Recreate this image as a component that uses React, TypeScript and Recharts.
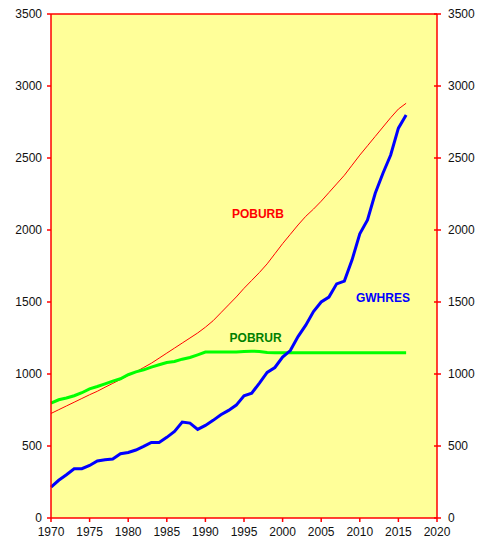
import { LineChart, Line, XAxis, YAxis, CartesianGrid, ReferenceLine, ReferenceDot } from "recharts";

const YEARS = [
  1970, 1971, 1972, 1973, 1974, 1975, 1976, 1977, 1978, 1979,
  1980, 1981, 1982, 1983, 1984, 1985, 1986, 1987, 1988, 1989,
  1990, 1991, 1992, 1993, 1994, 1995, 1996, 1997, 1998, 1999,
  2000, 2001, 2002, 2003, 2004, 2005, 2006, 2007, 2008, 2009,
  2010, 2011, 2012, 2013, 2014, 2015, 2016,
];

// population urbaine
const POBURB = [
  726, 752, 778, 804, 830, 856, 880, 908, 935, 962,
  990, 1015, 1045, 1075, 1110, 1145, 1180, 1215, 1250, 1285,
  1325, 1370, 1425, 1480, 1535, 1595, 1650, 1705, 1765, 1835,
  1905, 1970, 2035, 2095, 2145, 2200, 2260, 2320, 2380, 2450,
  2520, 2585, 2650, 2715, 2780, 2840, 2880,
];

// population rurale
const POBRUR = [
  798, 821, 833, 849, 870, 897, 913, 932, 951, 967,
  995, 1015, 1029, 1048, 1064, 1080, 1087, 1103, 1115, 1133,
  1152, 1152, 1152, 1152, 1152, 1157, 1158, 1157, 1150, 1148,
  1148, 1148, 1148, 1148, 1148, 1148, 1148, 1148, 1148, 1148,
  1148, 1148, 1148, 1148, 1148, 1148, 1148,
];

// consommation résidentielle (GWh)
const GWHRES = [
  215, 262, 300, 342, 342, 365, 396, 405, 409, 446,
  455, 472, 497, 525, 525, 560, 601, 666, 659, 615,
  643, 678, 717, 747, 784, 849, 867, 937, 1011, 1045,
  1117, 1163, 1260, 1339, 1434, 1500, 1534, 1626, 1645, 1793,
  1973, 2070, 2255, 2394, 2521, 2707, 2799,
];

const X_TICKS = [1970, 1975, 1980, 1985, 1990, 1995, 2000, 2005, 2010, 2015, 2020];
const Y_TICKS = [0, 500, 1000, 1500, 2000, 2500, 3000, 3500];

const data = YEARS.map((year, i) => ({
  year,
  poburb: POBURB[i],
  pobrur: POBRUR[i],
  gwhres: GWHRES[i],
}));

const AXIS_RED = "#FF0000";
const TICK_STYLE = { fill: "#111", fontSize: 12 };

function RightTick(props: any) {
  const { x, y, payload } = props;
  return (
    <g>
      <line x1={x - 3} y1={y} x2={x + 4} y2={y} stroke={AXIS_RED} strokeWidth={1.5} />
      <text x={x + 11} y={y} dy="0.35em" textAnchor="start" fill="#111" fontSize={12}>
        {payload.value}
      </text>
    </g>
  );
}

function seriesLabel(text: string, color: string) {
  return (props: any) => (
    <text
      x={props.cx}
      y={props.cy}
      dy="0.35em"
      textAnchor="middle"
      fill={color}
      fontSize={12}
      fontWeight="bold"
    >
      {text}
    </text>
  );
}

export default function App() {
  return (
    <div style={{ position: "absolute", left: 0, top: 0, fontFamily: "'Liberation Sans', Arial, sans-serif" }}>
      <LineChart width={480} height={543} data={data} margin={{ top: 14, right: 0, bottom: 0, left: 0 }}>
        <CartesianGrid fill="#FFFF99" horizontal={false} vertical={false} />
        <XAxis
          dataKey="year"
          type="number"
          domain={[1970, 2020]}
          ticks={X_TICKS}
          height={25}
          axisLine={{ stroke: AXIS_RED, strokeWidth: 1.5 }}
          tickLine={{ stroke: AXIS_RED, strokeWidth: 1.5 }}
          tickSize={4}
          tickMargin={5}
          tick={TICK_STYLE}
          interval={0}
        />
        <YAxis
          yAxisId="left"
          domain={[0, 3500]}
          ticks={Y_TICKS}
          width={51}
          axisLine={{ stroke: AXIS_RED, strokeWidth: 1.5 }}
          tickLine={{ stroke: AXIS_RED, strokeWidth: 1.5 }}
          tickSize={4}
          tickMargin={5}
          tick={TICK_STYLE}
          interval={0}
        />
        <YAxis
          yAxisId="right"
          orientation="right"
          domain={[0, 3500]}
          ticks={Y_TICKS}
          width={43}
          axisLine={{ stroke: AXIS_RED, strokeWidth: 1.5 }}
          tickLine={false}
          tickSize={0}
          tickMargin={0}
          tick={<RightTick />}
          interval={0}
        />
        <ReferenceLine yAxisId="left" y={3500} stroke={AXIS_RED} strokeWidth={1.5} />
        <Line yAxisId="left" type="linear" dataKey="poburb" stroke="#FF0000" strokeWidth={1} dot={false} isAnimationActive={false} />
        <Line yAxisId="right" type="linear" dataKey="pobrur" stroke="#00FF00" strokeWidth={3} dot={false} isAnimationActive={false} />
        <Line yAxisId="left" type="linear" dataKey="gwhres" stroke="#0000FF" strokeWidth={3} dot={false} isAnimationActive={false} />
        <ReferenceDot yAxisId="left" x={1996.8} y={2112} r={0} shape={seriesLabel("POBURB", "#FF0000")} />
        <ReferenceDot yAxisId="left" x={2013} y={1529} r={0} shape={seriesLabel("GWHRES", "#0000FF")} />
        <ReferenceDot yAxisId="left" x={1996.5} y={1251} r={0} shape={seriesLabel("POBRUR", "#008000")} />
      </LineChart>
    </div>
  );
}
